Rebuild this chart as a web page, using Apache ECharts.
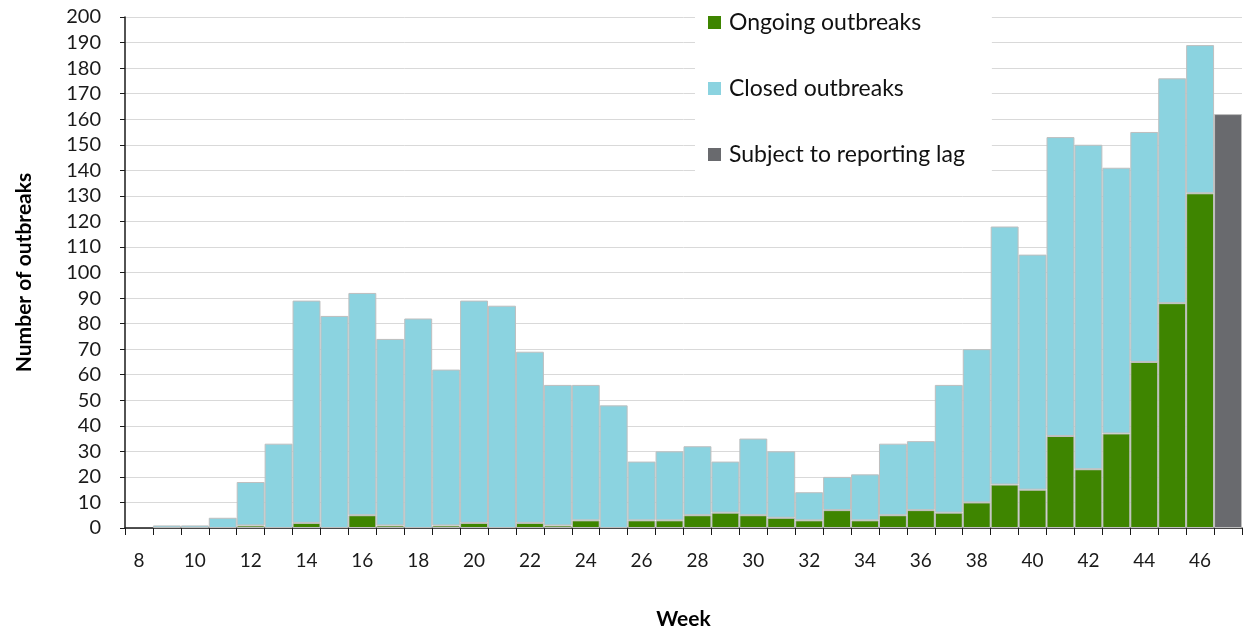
<!DOCTYPE html>
<html>
<head>
<meta charset="utf-8">
<script src="https://cdn.jsdelivr.net/npm/echarts@6/dist/echarts.min.js"></script>
<style>
  html, body { margin: 0; padding: 0; background: #fff; }
  #chart { width: 1244px; height: 635px; }
</style>
</head>
<body>
<div id="chart"></div>
<script>
const weeks = ["8", "9", "10", "11", "12", "13", "14", "15", "16", "17",
  "18", "19", "20", "21", "22", "23", "24", "25", "26", "27",
  "28", "29", "30", "31", "32", "33", "34", "35", "36", "37",
  "38", "39", "40", "41", "42", "43", "44", "45", "46", "47"];

const ongoing = [0, 0, 0, 0, 1, 0, 2, 0, 5, 1,
  0, 1, 2, 0, 2, 1, 3, 0, 3, 3,
  5, 6, 5, 4, 3, 7, 3, 5, 7, 6,
  10, 17, 15, 36, 23, 37, 65, 88, 131, 0];

const closed = [0, 1, 1, 4, 17, 33, 87, 83, 87, 73,
  82, 61, 87, 87, 67, 55, 53, 48, 23, 27,
  27, 20, 30, 26, 11, 13, 18, 28, 27, 50,
  60, 101, 92, 117, 127, 104, 90, 88, 58, 0];

const reportingLag = [0, 0, 0, 0, 0, 0, 0, 0, 0, 0,
  0, 0, 0, 0, 0, 0, 0, 0, 0, 0,
  0, 0, 0, 0, 0, 0, 0, 0, 0, 0,
  0, 0, 0, 0, 0, 0, 0, 0, 0, 162];

const font = "Lato, 'Open Sans', sans-serif";
const borderGray = "#BFBFBF";

// zero weeks draw nothing
const bars = (arr) => arr.map((v) => (v ? v : null));

const chart = echarts.init(document.getElementById("chart"), null, { renderer: "canvas" });

chart.setOption({
  animation: false,
  textStyle: { fontFamily: font },
  grid: { left: 125, right: 2, top: 17, bottom: 104, containLabel: false },
  legend: {
    orient: "vertical",
    left: 695,
    top: 0,
    padding: [11, 27, 24, 13],
    backgroundColor: "#ffffff",
    icon: "rect",
    itemWidth: 13,
    itemHeight: 13,
    itemGap: 43,
    selectedMode: false,
    textStyle: { fontFamily: font, fontSize: 23, color: "#111", padding: [0, 0, 0, 3] },
    data: [
      { name: "Ongoing outbreaks", itemStyle: { borderWidth: 0 } },
      { name: "Closed outbreaks", itemStyle: { borderWidth: 0 } },
      { name: "Subject to reporting lag", itemStyle: { borderWidth: 0 } },
    ],
  },
  xAxis: {
    type: "category",
    data: weeks,
    name: "Week",
    nameLocation: "middle",
    nameGap: 81,
    nameTextStyle: { fontFamily: font, fontSize: 21, fontWeight: "bold", color: "#000" },
    axisLine: { lineStyle: { color: "#1a1a1a", width: 1.5 } },
    axisTick: { show: true, interval: 0, length: 7, lineStyle: { color: "#1a1a1a" } },
    axisLabel: { interval: 1, margin: 23, fontSize: 19, color: "#1a1a1a", fontFamily: font },
    splitLine: { show: false },
  },
  yAxis: {
    type: "value",
    min: 0,
    max: 200,
    interval: 10,
    name: "Number of outbreaks",
    nameLocation: "middle",
    nameGap: 90,
    nameRotate: 90,
    nameTextStyle: { fontFamily: font, fontSize: 21, fontWeight: "bold", color: "#000" },
    axisLine: { show: true, lineStyle: { color: "#1a1a1a", width: 1.5 } },
    axisTick: { show: true, length: 5, lineStyle: { color: "#1a1a1a" } },
    axisLabel: { margin: 24, fontSize: 20, color: "#1a1a1a", fontFamily: font },
    splitLine: { lineStyle: { color: "#D9D9D9", width: 1 } },
  },
  series: [
    {
      name: "Ongoing outbreaks",
      type: "bar",
      stack: "total",
      barCategoryGap: 0,
      data: bars(ongoing),
      itemStyle: { color: "#3E8500", borderColor: borderGray, borderWidth: 1 },
    },
    {
      name: "Closed outbreaks",
      type: "bar",
      stack: "total",
      barCategoryGap: 0,
      data: bars(closed),
      itemStyle: { color: "#8BD3E0", borderColor: borderGray, borderWidth: 1 },
    },
    {
      name: "Subject to reporting lag",
      type: "bar",
      stack: "total",
      barCategoryGap: 0,
      data: bars(reportingLag),
      itemStyle: { color: "#696A6E", borderColor: borderGray, borderWidth: 1 },
    },
  ],
});
</script>
</body>
</html>
